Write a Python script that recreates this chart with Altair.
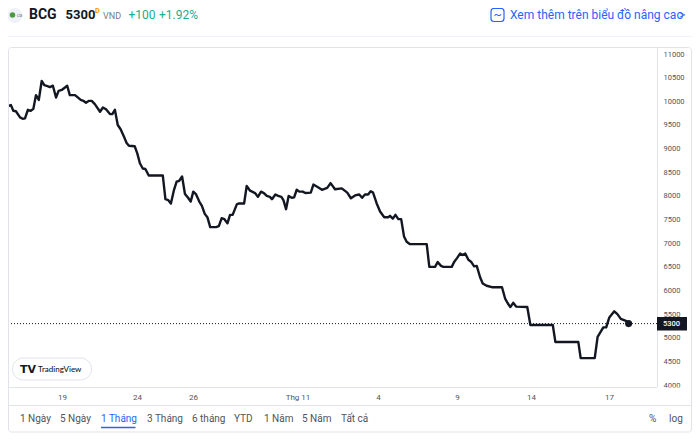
import altair as alt
import pandas as pd

# Sessions counted from 19 Oct (trading sessions), prices in VND
sessions = [-2.07,-1.96,-1.87,-1.77,-1.61,-1.51,-1.42,-1.31,-1.20,-1.10,-1.00,-0.89,-0.78,-0.68,-0.56,-0.46,-0.35,-0.23,-0.13,-0.01,
 0.20,0.30,0.50,0.72,0.82,0.92,1.04,1.14,1.26,1.46,1.57,1.69,1.84,1.93,2.03,2.14,2.25,2.38,2.48,2.57,
 2.79,2.89,2.99,3.10,3.20,3.33,3.87,3.97,4.08,4.18,4.30,4.40,4.50,4.61,4.72,4.84,4.94,5.04,5.14,5.27,
 5.37,5.48,5.58,5.69,5.91,6.02,6.13,6.23,6.35,6.45,6.55,6.71,6.78,6.99,7.09,7.22,7.41,7.52,7.64,7.75,
 7.86,7.98,8.06,8.19,8.30,8.42,8.50,8.60,8.70,8.82,8.91,9.01,9.11,9.24,9.34,9.55,9.65,9.78,9.98,10.18,
 10.31,10.48,10.74,10.95,11.09,11.25,11.41,11.52,11.63,11.75,11.85,11.94,12.08,12.21,12.37,12.53,12.59,12.70,12.80,12.91,
 13.02,13.13,13.23,13.36,14.00,14.10,14.32,14.42,14.55,14.64,14.96,15.06,15.17,15.28,15.38,15.48,15.60,15.70,15.82,15.92,
 16.05,16.15,16.30,16.50,16.89,17.01,17.11,17.21,17.32,17.43,17.86,17.98,18.84,18.94,19.82,19.91,20.45,20.56,20.78,20.89,
 21.01,21.20,21.32,21.45,21.65,21.75]
prices = [9900,9920,9800,9790,9660,9630,9640,9820,9800,9840,10130,10030,10430,10340,10320,10300,10330,10080,10220,10240,
 10330,10130,10130,10030,10010,9970,10010,10010,9940,9780,9870,9830,9730,9730,9820,9500,9410,9250,9120,9060,
 9050,8900,8690,8580,8570,8430,8430,7930,7910,7840,8130,8300,8320,8410,8040,7960,7880,8090,8040,7880,
 7790,7620,7550,7340,7340,7360,7530,7510,7420,7600,7600,7820,7840,7840,8210,8110,8060,7980,8090,8060,
 8000,7980,7930,8030,8000,7980,7910,7720,8000,7960,7970,8130,8090,8090,8060,8070,8240,8200,8130,8170,
 8270,8140,8160,8070,7950,8010,8030,7960,8030,8030,8100,8070,7840,7670,7550,7550,7580,7520,7600,7510,
 7510,7140,7030,6980,6980,6500,6500,6600,6520,6500,6500,6610,6690,6780,6750,6780,6650,6610,6510,6520,
 6280,6150,6100,6070,6070,5830,5730,5650,5740,5660,5650,5270,5270,4910,4910,4570,4570,5020,5220,5220,
 5430,5560,5500,5400,5360,5300]
last_price = [5300]
price_ticks = [4000,4500,5000,5500,6000,6500,7000,7500,8000,8500,9000,9500,10000,10500,11000]
tick_pos = [0,2.88,5.03,9.04,12.13,15.16,18,21]
tick_labels = ["19","24","26","Thg 11","4","9","14","17"]
ranges = ["1 Ngày","5 Ngày","1 Tháng","3 Tháng","6 tháng","YTD","1 Năm","5 Năm","Tất cả"]
range_x = [20,60,101,147,192,234,264,302,341]

FONT = "Roboto"
INK = "#131722"
GREY = "#50535e"
BLUE = "#2962ff"
LINE = "#e0e3eb"
OX, OY = 8, 48     # page position of the plot area
W, H = 649, 339

df = pd.DataFrame({"s": sessions, "p": prices})
xs = alt.Scale(domain=[-2.073, 22.84], nice=False, zero=False)
ys = alt.Scale(domain=[3960, 11127], nice=False, zero=False)
dummy = pd.DataFrame({"a": [0]})

def txt(label, x, y, size=11, color=GREY, weight=400, align="left", font=FONT):
    return alt.Chart(dummy).mark_text(text=label, align=align, baseline="middle", fontSize=size,
                                      color=color, fontWeight=weight, font=font).encode(
        x=alt.value(x - OX), y=alt.value(y - OY))

def hrule(y, x1, x2, color=LINE, w=1):
    return alt.Chart(dummy).mark_rule(color=color, strokeWidth=w).encode(
        x=alt.value(x1 - OX), x2=alt.value(x2 - OX), y=alt.value(y - OY))

def vrule(x, y1, y2, color=LINE, w=1):
    return alt.Chart(dummy).mark_rule(color=color, strokeWidth=w).encode(
        x=alt.value(x - OX), y=alt.value(y1 - OY), y2=alt.value(y2 - OY))

def box(x1, x2, y1, y2, fill="white", stroke=None, radius=0, sw=1):
    kw = dict(fill=fill, cornerRadius=radius)
    if stroke:
        kw.update(stroke=stroke, strokeWidth=sw)
    return alt.Chart(dummy).mark_rect(**kw).encode(
        x=alt.value(x1 - OX), x2=alt.value(x2 - OX), y=alt.value(y1 - OY), y2=alt.value(y2 - OY))

def dot(x, y, size, fill):
    return alt.Chart(dummy).mark_point(filled=True, fill=fill, size=size, opacity=1).encode(
        x=alt.value(x - OX), y=alt.value(y - OY))

label_map = "{" + ",".join(f"'{p}':'{l}'" for p, l in zip(tick_pos, tick_labels)) + "}"

x_axis = alt.Axis(
    values=tick_pos, labelExpr=f"{label_map}[datum.value]", grid=False, ticks=False, domain=False,
    labelFont=FONT, labelFontSize=8, labelColor=GREY, labelPadding=6, labelOverlap=False, labelFlush=False)
y_axis = alt.Axis(
    orient="right", values=price_ticks, format="d", grid=False, ticks=False, domain=False,
    labelFont=FONT, labelFontSize=7.5, labelColor=GREY, labelPadding=6, labelOverlap=False, labelFlush=False)

x_enc = alt.X("s:Q", scale=xs, title=None, axis=x_axis)
y_enc = alt.Y("p:Q", scale=ys, title=None, axis=y_axis)

line = alt.Chart(df).mark_line(color=INK, strokeWidth=2.4, strokeJoin="round", interpolate="linear").encode(
    x=x_enc, y=y_enc)
dotted = alt.Chart(pd.DataFrame({"p": last_price})).mark_rule(color=INK, strokeWidth=1, strokeDash=[1, 2]).encode(
    y=y_enc)
end = alt.Chart(pd.DataFrame({"s": [sessions[-1]], "p": last_price})).mark_circle(color=INK, size=50, opacity=1).encode(
    x=x_enc, y=y_enc)

layers = [
    line,
    dotted,
    end,
    # card and separators
    box(8.5, 691.5, 47.5, 432, fill="transparent", stroke=LINE, radius=3),
    hrule(36.5, 8, 692, color="#f0f3fa"),
    vrule(657.5, 48, 387),
    hrule(387.5, 8, 657),
    hrule(405.5, 8, 692),
    box(658, 691, 387.6, 392, fill="white"),
    # price tag
    box(657, 687, 317, 330.5, fill=INK),
    txt("5300", 663, 324, size=7.5, color="white", weight=500),
    # TradingView badge
    box(12.5, 91.5, 358, 380, fill="white", stroke=LINE, radius=11),
    txt("TV", 20, 369.5, size=11, color=INK, weight=900, font="DejaVu Sans"),
    txt("TradingView", 38, 369.5, size=8, color=INK, weight=500, font="Lato"),
    # header
    dot(15, 15.5, 230, "#eef1f8"),
    dot(12.5, 15, 30, "#4c9a3f"),
    txt("CG", 17, 15.5, size=4, color=GREY),
    txt("BCG", 29, 14.5, size=14, color=INK, weight=700),
    txt("5300", 65.5, 14.5, size=13, color=INK, weight=700),
    txt("D", 95, 11, size=7.5, color="#ff9800", weight=700),
    txt("VND", 103, 16, size=9, color="#787b86"),
    txt("+100", 128.5, 15, size=12, color="#22ab94"),
    txt("+1.92%", 159, 15, size=12, color="#22ab94"),
    box(491, 504, 8.5, 21.5, fill="white", stroke=BLUE, radius=3, sw=1.2),
    txt("~", 497.5, 14.5, size=12, color=BLUE, align="center"),
    txt("Xem thêm trên biểu đồ nâng cao", 510, 15, size=12, color=BLUE),
    txt(">", 682, 15, size=13, color=BLUE, align="center", weight=300),
    # range selector
    hrule(427.5, 101, 135.5, color=BLUE, w=1.5),
    txt("%", 649, 419, size=10, color=GREY),
    txt("log", 669, 419, size=10, color=GREY),
]
for r, x in zip(ranges, range_x):
    layers.append(txt(r, x, 419, size=10, color=BLUE if r == "1 Tháng" else GREY))

chart = alt.layer(*layers).properties(
    width=W, height=H,
    padding={"left": 0, "top": 40, "right": 35, "bottom": 46},
    autosize=alt.AutoSizeParams(type="none"),
).resolve_scale(x="shared", y="shared").configure_view(stroke=None)

chart.save("out.html", embed_options={"renderer": "svg", "actions": False})
